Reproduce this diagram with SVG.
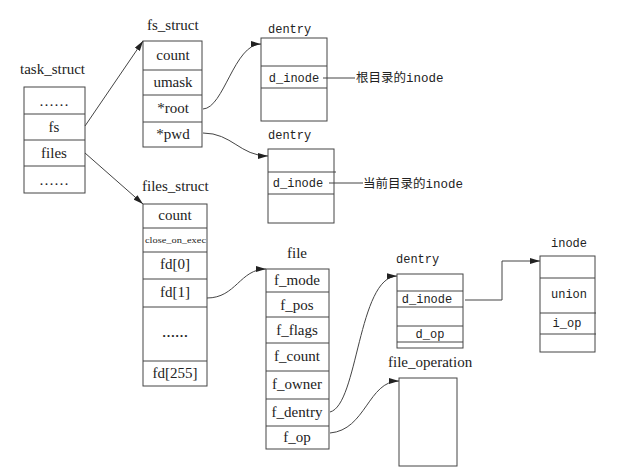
<svg xmlns="http://www.w3.org/2000/svg" width="627" height="473" viewBox="0 0 627 473">
<defs>
<style>
.box{fill:#fff;stroke:#444;stroke-width:1}
.div{stroke:#444;stroke-width:1}
.s{font-family:"Liberation Serif","Times New Roman",serif;font-size:15px;fill:#222;text-anchor:middle}
.sl{font-family:"Liberation Serif","Times New Roman",serif;font-size:15px;fill:#222}
.m{font-family:"Liberation Mono","Courier New",monospace;font-size:12px;fill:#222}
.mc{font-family:"Liberation Mono","Courier New",monospace;font-size:12px;fill:#222;text-anchor:middle}
.cn{font-family:"Liberation Mono","Noto Sans CJK SC",monospace;font-size:12.5px;fill:#222}
.c{fill:none;stroke:#444;stroke-width:1}
</style>
<marker id="ah" viewBox="0 0 10 6" refX="10" refY="3" markerWidth="10" markerHeight="6" orient="auto" markerUnits="userSpaceOnUse">
<path d="M0,0 L10,3 L0,6 z" fill="#222"/>
</marker>
</defs>
<rect width="627" height="473" fill="#fff"/>

<g id="task_struct">
<text class="sl" x="20" y="74">task_struct</text>
<rect class="box" x="24" y="87" width="61" height="106"/>
<line class="div" x1="24" y1="114" x2="85" y2="114"/>
<line class="div" x1="24" y1="140" x2="85" y2="140"/>
<line class="div" x1="24" y1="166" x2="85" y2="166"/>
<text class="s" x="54" y="106">……</text>
<text class="s" x="54" y="132">fs</text>
<text class="s" x="54" y="158">files</text>
<text class="s" x="54" y="185">……</text>
</g>

<g id="fs_struct">
<text class="sl" x="147" y="30">fs_struct</text>
<rect class="box" x="143" y="41" width="59" height="106"/>
<line class="div" x1="143" y1="70" x2="202" y2="70"/>
<line class="div" x1="143" y1="95" x2="202" y2="95"/>
<line class="div" x1="143" y1="122" x2="202" y2="122"/>
<text class="s" x="173" y="60">count</text>
<text class="s" x="173" y="87">umask</text>
<text class="s" x="173" y="113">*root</text>
<text class="s" x="173" y="139">*pwd</text>
</g>

<g id="dentry_root">
<text class="m" x="268" y="33">dentry</text>
<rect class="box" x="261" y="38" width="66" height="83"/>
<line class="div" x1="261" y1="66" x2="327" y2="66"/>
<line class="div" x1="261" y1="88" x2="327" y2="88"/>
<text class="mc" x="294" y="82">d_inode</text>
<line class="div" x1="323" y1="78" x2="355" y2="78"/>
<text class="cn" x="356" y="82">根目录的inode</text>
</g>

<g id="dentry_pwd">
<text class="m" x="268" y="139">dentry</text>
<rect class="box" x="268" y="149" width="66" height="74"/>
<line class="div" x1="268" y1="172" x2="336" y2="172"/>
<line class="div" x1="268" y1="194" x2="334" y2="194"/>
<text class="mc" x="298" y="187">d_inode</text>
<line class="div" x1="329" y1="183" x2="363" y2="183"/>
<text class="cn" x="363" y="188">当前目录的inode</text>
</g>

<g id="files_struct">
<text class="sl" x="142" y="191">files_struct</text>
<rect class="box" x="143" y="204" width="64" height="182"/>
<line class="div" x1="143" y1="228" x2="207" y2="228"/>
<line class="div" x1="143" y1="252" x2="207" y2="252"/>
<line class="div" x1="143" y1="279" x2="207" y2="279"/>
<line class="div" x1="143" y1="307" x2="207" y2="307"/>
<line class="div" x1="143" y1="361" x2="207" y2="361"/>
<text class="s" x="175" y="220">count</text>
<text class="sl" x="145" y="243" style="font-size:9px" textLength="61" lengthAdjust="spacingAndGlyphs">close_on_exec</text>
<text class="s" x="175" y="269">fd[0]</text>
<text class="s" x="175" y="297">fd[1]</text>
<text class="s" x="175" y="337" style="font-weight:bold;font-size:13px">……</text>
<text class="s" x="175" y="378">fd[255]</text>
</g>

<g id="file">
<text class="sl" x="287" y="258">file</text>
<rect class="box" x="266" y="269" width="63" height="180"/>
<line class="div" x1="266" y1="292" x2="329" y2="292"/>
<line class="div" x1="266" y1="317" x2="329" y2="317"/>
<line class="div" x1="266" y1="343" x2="329" y2="343"/>
<line class="div" x1="266" y1="371" x2="329" y2="371"/>
<line class="div" x1="266" y1="399" x2="329" y2="399"/>
<line class="div" x1="266" y1="426" x2="329" y2="426"/>
<text class="s" x="297" y="285">f_mode</text>
<text class="s" x="297" y="310">f_pos</text>
<text class="s" x="297" y="335">f_flags</text>
<text class="s" x="297" y="361">f_count</text>
<text class="s" x="297" y="389">f_owner</text>
<text class="s" x="297" y="417">f_dentry</text>
<text class="s" x="297" y="442">f_op</text>
</g>

<g id="dentry_file">
<text class="m" x="396" y="263">dentry</text>
<rect class="box" x="397" y="274" width="66" height="74"/>
<line class="div" x1="397" y1="291" x2="463" y2="291"/>
<line class="div" x1="397" y1="307" x2="463" y2="307"/>
<line class="div" x1="397" y1="326" x2="463" y2="326"/>
<line class="div" x1="397" y1="342" x2="463" y2="342"/>
<text class="mc" x="427" y="303">d_inode</text>
<text class="mc" x="430" y="338">d_op</text>
</g>

<g id="inode">
<text class="m" x="551" y="247">inode</text>
<rect class="box" x="540" y="256" width="55" height="96"/>
<line class="div" x1="540" y1="278" x2="595" y2="278"/>
<line class="div" x1="540" y1="313" x2="596" y2="313"/>
<line class="div" x1="540" y1="334" x2="596" y2="334"/>
<text class="mc" x="569" y="298">union</text>
<text class="mc" x="567" y="327">i_op</text>
</g>

<g id="file_operation">
<text class="sl" x="388" y="367">file_operation</text>
<rect class="box" x="399" y="378" width="58" height="88"/>
</g>

<g id="connectors">
<line class="c" x1="85" y1="126" x2="143" y2="41" marker-end="url(#ah)"/>
<line class="c" x1="85" y1="153" x2="143" y2="204" marker-end="url(#ah)"/>
<path class="c" d="M203,109 C224,108 234,44 261,44" marker-end="url(#ah)"/>
<path class="c" d="M203,133 C232,133 240,156 268,156" marker-end="url(#ah)"/>
<path class="c" d="M207,298 C236,298 240,269 266,269" marker-end="url(#ah)"/>
<path class="c" d="M330,412 C358,405 358,277 397,276" marker-end="url(#ah)"/>
<path class="c" d="M330,433 C366,430 368,381 399,381" marker-end="url(#ah)"/>
<polyline class="c" points="465,300 502,300 502,261 540,261" marker-end="url(#ah)"/>
</g>
</svg>
